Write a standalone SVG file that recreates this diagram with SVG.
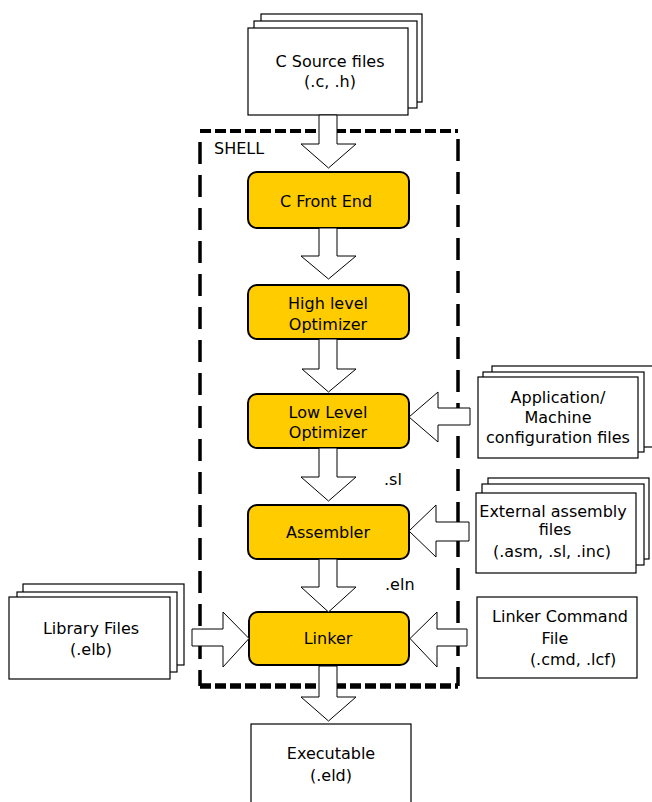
<svg xmlns="http://www.w3.org/2000/svg" width="652" height="802" viewBox="0 0 652 802">
<style>
text{font-family:"DejaVu Sans","Liberation Sans",sans-serif;font-size:16px;fill:#000;text-anchor:middle}
.page{fill:#fff;stroke:#000;stroke-width:1.2}
.proc{fill:#FFCC00;stroke:#000;stroke-width:2}
.arr{fill:#fff;stroke:#000;stroke-width:1}
.fh{fill:none;stroke:#000;stroke-dasharray:11 4}
.fv{fill:none;stroke:#000;stroke-width:3.5;stroke-dasharray:22 11}
</style>
<rect width="652" height="802" fill="#fff"/>

<g id="shell">
<line class="fh" x1="200" y1="131" x2="458" y2="131" stroke-width="4"/>
<line class="fh" x1="200" y1="686" x2="458" y2="686" stroke-width="5.5" stroke-dasharray="12 4.5"/>
<line class="fv" x1="200" y1="140" x2="200" y2="686" stroke-dashoffset="-2"/>
<line class="fv" x1="458" y1="139" x2="458" y2="686"/>
<text x="214" y="154" style="text-anchor:start">SHELL</text>
</g>

<g id="csource">
<rect class="page" x="261" y="14" width="161" height="88"/>
<rect class="page" x="254" y="21" width="163" height="87"/>
<rect class="page" x="248" y="28" width="160" height="87"/>
<text x="330" y="67">C Source files</text>
<text x="330" y="87">(.c, .h)</text>
</g>

<g id="frontend">
<rect class="proc" x="248" y="172" width="161" height="56" rx="9"/>
<text x="326" y="207">C Front End</text>
</g>

<g id="hlo">
<rect class="proc" x="248" y="285" width="161" height="54" rx="9"/>
<text x="328" y="309">High level</text>
<text x="328" y="330">Optimizer</text>
</g>

<g id="llo">
<rect class="proc" x="248" y="394" width="161" height="54" rx="9"/>
<text x="328" y="418">Low Level</text>
<text x="328" y="438">Optimizer</text>
</g>

<g id="assembler">
<rect class="proc" x="248" y="505" width="161" height="54" rx="9"/>
<text x="328" y="538">Assembler</text>
</g>

<g id="linker">
<rect class="proc" x="249" y="612" width="160" height="53" rx="9"/>
<text x="328" y="644">Linker</text>
</g>

<g id="appconfig">
<rect class="page" x="492" y="366" width="170" height="81"/>
<rect class="page" x="483" y="372" width="161" height="80"/>
<rect class="page" x="478" y="377" width="160" height="81"/>
<text x="558" y="403">Application/</text>
<text x="558" y="423">Machine</text>
<text x="558" y="443">configuration files</text>
</g>

<g id="extasm">
<rect class="page" x="488" y="478" width="161" height="81"/>
<rect class="page" x="482" y="484" width="162" height="81"/>
<rect class="page" x="476" y="493" width="160" height="80"/>
<text x="553" y="517">External assembly</text>
<text x="555" y="535">files</text>
<text x="552" y="557">(.asm, .sl, .inc)</text>
</g>

<g id="linkercmd">
<rect class="page" x="477" y="597" width="160" height="81"/>
<text x="560" y="622">Linker Command</text>
<text x="555" y="644">File</text>
<text x="573" y="665">(.cmd, .lcf)</text>
</g>

<g id="library">
<rect class="page" x="23" y="584" width="161" height="81"/>
<rect class="page" x="17" y="592" width="160" height="80"/>
<rect class="page" x="9" y="597" width="161" height="82"/>
<text x="91" y="634">Library Files</text>
<text x="91" y="655">(.elb)</text>
</g>

<g id="executable">
<rect class="page" x="251" y="724" width="160" height="90"/>
<text x="331" y="759">Executable</text>
<text x="331" y="781">(.eld)</text>
</g>

<g id="connectors">
<polygon class="arr" points="319,115 337,115 337,144 356,144 328.5,168 301,144 319,144"/>
<polygon class="arr" points="319,228 337,228 337,256 356,256 328.5,279 301,256 319,256"/>
<polygon class="arr" points="319,339 337,339 337,369 356,369 328.5,392 302,369 319,369"/>
<polygon class="arr" points="319,448 337,448 337,477 356,477 328.5,501 301,477 319,477"/>
<polygon class="arr" points="319,559 337,559 337,587 356,587 328.5,612 301,587 319,587"/>
<polygon class="arr" points="319,666 337,666 337,697 356,697 328.5,721 301,697 319,697"/>
<polygon class="arr" points="470,408 438,408 438,392 409,417 438,442 438,425 470,425"/>
<polygon class="arr" points="469,522 436,522 436,505 409,531 436,557 436,541 469,541"/>
<polygon class="arr" points="467,629 437,629 437,612 410,638.5 437,667 437,646 467,646"/>
<polygon class="arr" points="192,629 223,629 223,612 249,638.5 223,667 223,646 192,646"/>
<text x="384" y="485" style="text-anchor:start">.sl</text>
<text x="385" y="590" style="text-anchor:start">.eln</text>
</g>
</svg>
